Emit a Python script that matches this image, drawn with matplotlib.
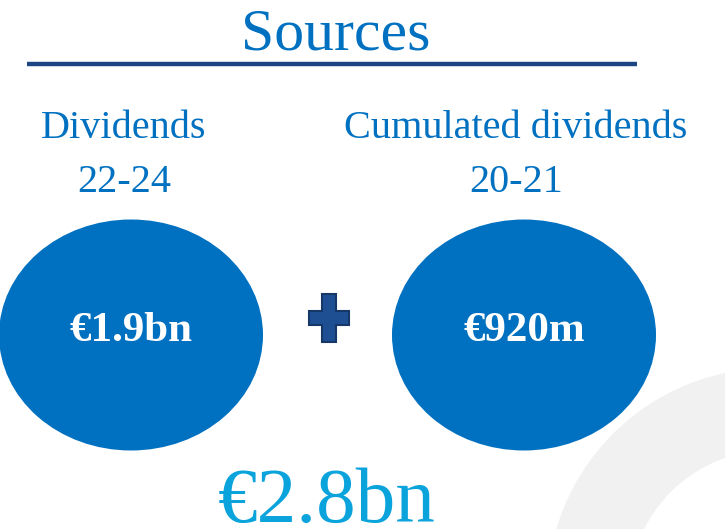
import matplotlib
matplotlib.use("Agg")
import matplotlib.pyplot as plt
from matplotlib.patches import Ellipse, Wedge, Polygon

title = "Sources"
labels = ["Dividends", "Cumulated dividends"]
periods = ["22-24", "20-21"]
values = ["€1.9bn", "€920m"]
total = "€2.8bn"

BLUE = "#0070c0"
DARK = "#1b4583"
CYAN = "#0aa3dc"
serif = "Liberation Serif"

fig = plt.figure(figsize=(7.25, 5.29), dpi=100)
ax = fig.add_axes([0, 0, 1, 1])
ax.set_xlim(0, 725)
ax.set_ylim(529, 0)
ax.axis("off")

# background ring
ax.add_patch(Wedge((772, 593), 225, 0, 360, width=82, facecolor="#f1f1f1",
                   edgecolor="none", zorder=0))

# title + rule
ax.text(336, 36, title, ha="center", va="center", fontsize=43, color=BLUE, family=serif)
ax.plot([27, 637], [64, 64], color=DARK, lw=3.2, solid_capstyle="butt")

cx = [131, 524]
lx = [124, 516]
for i, (lab, per, val) in enumerate(zip(labels, periods, values)):
    ax.text(lx[i], 128, lab, ha="center", va="center", fontsize=29, color=BLUE, family=serif)
    ax.text(lx[i], 182, per, ha="center", va="center", fontsize=29, color=BLUE, family=serif)
    ax.add_patch(Ellipse((cx[i], 335), 264, 231, facecolor=BLUE, edgecolor="none", zorder=2))
    ax.text(cx[i], 331, val, ha="center", va="center", fontsize=31, color="white",
            family=serif, weight="bold", zorder=3)

# plus sign
pts = [(322, 294), (336, 294), (336, 311), (349, 311), (349, 325), (336, 325),
       (336, 342), (322, 342), (322, 325), (309, 325), (309, 311), (322, 311)]
ax.add_patch(Polygon(pts, closed=True, facecolor="#1f4f93", edgecolor="#163868",
                     lw=1.5, zorder=3))

ax.text(327, 522, total, ha="center", va="baseline", fontsize=57, color=CYAN, family=serif)

fig.savefig("out.png", dpi=100)
